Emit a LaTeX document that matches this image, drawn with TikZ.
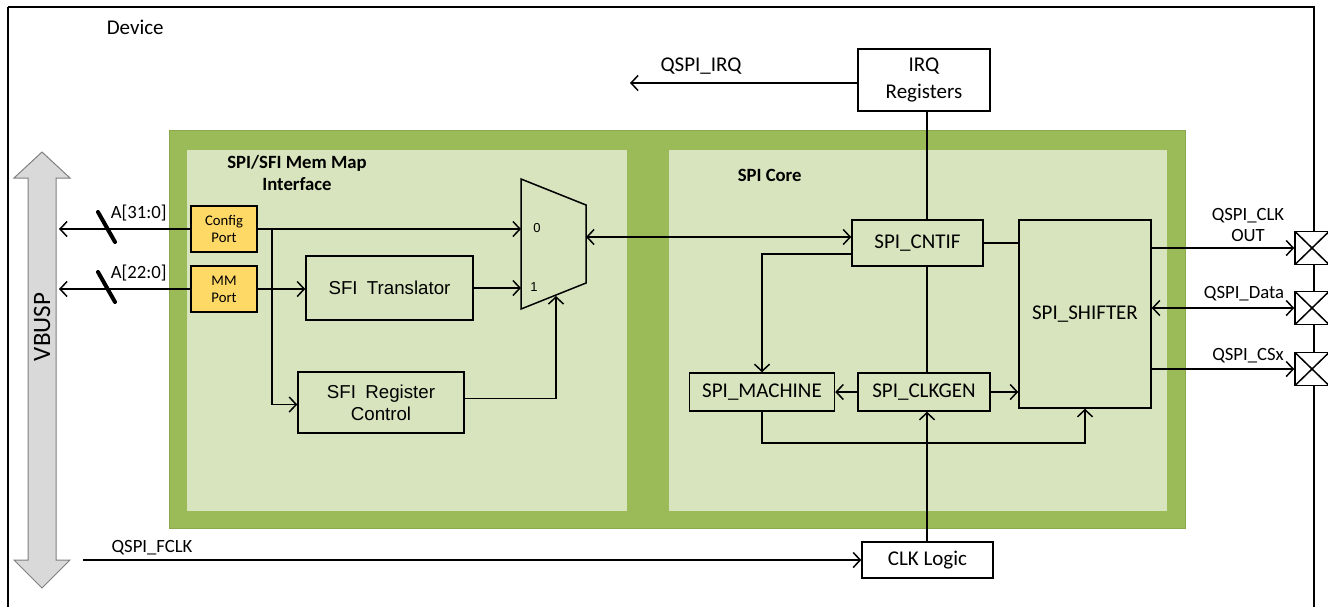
\documentclass[tikz,border=0pt]{standalone}
\usepackage{fontspec}
\setmainfont{Carlito}
\newfontfamily\arialf{Liberation Sans}
\usetikzlibrary{arrows.meta,calc}
\definecolor{gdark}{HTML}{9BBB59}
\definecolor{gline}{HTML}{8AA84E}
\definecolor{glight}{HTML}{D7E4BD}
\definecolor{port}{HTML}{FFD966}
\definecolor{busfill}{HTML}{D9D9D9}
\definecolor{busline}{HTML}{7F7F7F}
\newcommand\fsz[2]{\fontsize{#1}{#2}\selectfont}
\tikzset{
  blk/.style={draw, fill=glight, inner sep=0pt, align=center, font=\fsz{21}{26}},
  ablk/.style={draw, fill=glight, inner sep=0pt, align=center, font=\arialf\fsz{18.7}{22}},
  wblk/.style={draw, fill=white, inner sep=0pt, align=center, font=\fsz{21}{27}},
  portbox/.style={draw, fill=port, inner sep=0pt, align=center, font=\fsz{14.7}{17}, minimum width=66pt, minimum height=46pt},
  pad/.style={draw, fill=white, inner sep=0pt, minimum width=34pt, minimum height=33pt,
    path picture={\draw (path picture bounding box.north west) -- (path picture bounding box.south east)
      (path picture bounding box.south west) -- (path picture bounding box.north east);}},
  lbl/.style={inner sep=0pt, font=\fsz{21}{26}},
  slbl/.style={inner sep=0pt, font=\fsz{18.7}{21}},
  hdr/.style={inner sep=0pt, font=\bfseries\fsz{18.7}{22}, align=center},
  muxlbl/.style={inner sep=0pt, font=\arialf\fsz{13}{14}},
  slash/.style={line width=4pt, line cap=round},
}
\begin{document}
\begin{tikzpicture}[x=1pt,y=-1pt, line width=1.5pt, >={Straight Barb[length=7pt,width=15pt]}]
\useasboundingbox (0,0) rectangle (1328,606);
% backgrounds
\fill[gdark] (169,130) rectangle (1185,528);
\draw[gline, line width=1pt] (169,130) rectangle (1185,528);
\fill[glight] (187,150) rectangle (627,511);
\fill[glight] (669,150) rectangle (1167,511);
% device border
\draw (8,7) -- (1314,7) -- (1314,640) (8,7) -- (8,640);
\node[lbl, anchor=west] (dev) at (106,27) {Device};
% VBUSP bus arrow
\draw[fill=busfill, draw=busline, line width=1pt] (42,152) -- (70,178) -- (56,178) -- (56,560) -- (70,560) -- (42,588) -- (14,560) -- (28,560) -- (28,178) -- (14,178) -- cycle;
\node[inner sep=0pt, font=\fsz{25}{28}, rotate=90] (vbusp) at (42,327) {VBUSP};
% headers
\node[hdr] (h1) at (297,173) {SPI/SFI Mem Map\\Interface};
\node[hdr, anchor=west] (h2) at (737,175) {SPI Core};
% blocks
\node[wblk, minimum width=132pt, minimum height=62pt] (irq) at (924,80) {IRQ\\Registers};
\node[portbox] (config) at (224,229) {Config\\Port};
\node[portbox] (mm) at (224,289) {MM\\Port};
\node[ablk, minimum width=167pt, minimum height=64pt] (trans) at (389.5,288) {SFI\enspace Translator};
\node[ablk, minimum width=166pt, minimum height=61pt] (regc) at (381,402.5) {SFI\enspace Register\\Control};
\node[blk, minimum width=131pt, minimum height=46pt] (cntif) at (917.5,243) {SPI\_CNTIF};
\node[blk, minimum width=132pt, minimum height=188pt] (shifter) at (1085,314) {SPI\_SHIFTER};
\node[blk, minimum width=145pt, minimum height=38pt] (machine) at (762,392) {SPI\_MACHINE};
\node[blk, minimum width=132pt, minimum height=38pt] (clkgen) at (924,392) {SPI\_CLKGEN};
\node[wblk, minimum width=131pt, minimum height=36pt] (clklogic) at (927.5,560) {CLK Logic};
\node[pad] (p1) at (1312,248) {};
\node[pad] (p2) at (1312,308) {};
\node[pad] (p3) at (1312,369) {};
% mux
\draw (521,179) coordinate (m1) -- (586,205) coordinate (m2) -- (586,283) coordinate (m3) -- (521,309) coordinate (m4) -- cycle;
\coordinate (in0) at (521,229);
\coordinate (in1) at (521,288);
\coordinate (mout) at (586,237);
\coordinate (mbot) at (556,296);
\node[muxlbl] (l0) at (537,228) {0};
\node[muxlbl] (l1) at (534,287) {1};
% coordinates
\coordinate (vx) at (927,0);
\coordinate (br) at (272,229);
\coordinate (busL1) at (59,229);
\coordinate (busL2) at (59,289);
\coordinate (irqout) at (630,83);
\coordinate (fclk) at (83,560);
\coordinate (lp) at (762,443);
% labels
\node[slbl, anchor=west] (a31) at (110,213) {A[31:0]};
\node[slbl, anchor=west] (a22) at (110,273) {A[22:0]};
\node[lbl] (irql) at (701,66) {QSPI\_IRQ};
\node[slbl] (fclkl) at (152,548) {QSPI\_FCLK};
\node[slbl, align=center] (clkl) at (1248,225) {QSPI\_CLK\\OUT};
\node[slbl] (datal) at (1244,294) {QSPI\_Data};
\node[slbl] (csl) at (1248,356) {QSPI\_CSx};
% connectors
\draw[->] (config.west) -- (busL1);
\draw[->] (mm.west) -- (busL2);
\draw[slash] (98,212) -- (115,242);
\draw[slash] (98,272) -- (115,302);
\draw[->] (config.east) -- (in0);
\draw[->] (br) |- ([yshift=-2pt]regc.west);
\draw[->] (mm.east) -- (mm.east -| trans.west);
\draw[->] (trans.east) -- (trans.east -| in1);
\draw[->] ([yshift=4pt]regc.east) -| (mbot);
\draw[<->] (mout) -- (mout -| cntif.west);
\draw (irq.south -| vx) -- (cntif.north -| vx);
\draw[->] (irq.west |- irqout) -- (irqout);
\draw (cntif.east) -- (cntif.east -| shifter.west);
\draw[->] ([yshift=-11pt]cntif.west) -| (machine.north);
\draw (cntif.south -| vx) -- (clkgen.north -| vx);
\draw[->] (clkgen.west) -- (machine.east);
\draw[->] (clkgen.east) -- (clkgen.east -| shifter.west);
\draw[->] (machine.south) -- (lp) -| (shifter.south);
\draw[->] (clklogic.north -| vx) -- (clkgen.south -| vx);
\draw[->] (fclk) -- (clklogic.west);
\draw[->] (p1.west -| shifter.east) -- (p1.west);
\draw[<->] (p2.west -| shifter.east) -- (p2.west);
\draw[->] (p3.west -| shifter.east) -- (p3.west);
\end{tikzpicture}
\end{document}
